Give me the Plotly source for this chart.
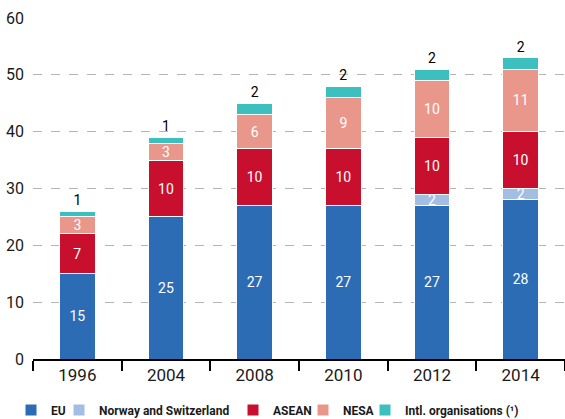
import plotly.graph_objects as go

years = ["1996", "2004", "2008", "2010", "2012", "2014"]
eu = [15, 25, 27, 27, 27, 28]
norway_switz = [0, 0, 0, 0, 2, 2]
asean = [7, 10, 10, 10, 10, 10]
nesa = [3, 3, 6, 9, 10, 11]
intl = [1, 1, 2, 2, 2, 2]

series = [
    ("EU", eu, "#2b6cb5", "white", "inside"),
    ("Norway and Switzerland", norway_switz, "#a3bde3", "white", "inside"),
    ("ASEAN", asean, "#c8102e", "white", "inside"),
    ("NESA", nesa, "#ea978b", "white", "inside"),
    ("Intl. organisations (¹)", intl, "#3cbfbf", "black", "outside"),
]
# legend symbol left edges (px)
legend_px = [23, 71, 245, 315, 377]

FONT = "Roboto, Open Sans, sans-serif"
W, H = 565, 419

fig = go.Figure()
layout_legends = {}
for i, (name, vals, color, tcolor, tpos) in enumerate(series):
    lg = "legend" if i == 0 else f"legend{i+1}"
    fig.add_trace(go.Bar(
        x=years, y=vals, name=name, legend=lg,
        marker=dict(color=color, line=dict(color="white", width=1)),
        text=[str(v) if v else "" for v in vals],
        textposition=tpos,
        insidetextanchor="middle",
        textangle=0,
        textfont=dict(color=tcolor, size=14, family=FONT),
        cliponaxis=False,
        constraintext="none",
        hoverinfo="skip",
    ))
    layout_legends[lg] = dict(
        orientation="h", xref="container", yref="container",
        x=(legend_px[i] - 12) / W, xanchor="left",
        y=(H - 410) / H, yanchor="middle",
        font=dict(size=12, family=FONT, weight="bold", color="#1a1a1a"),
        itemwidth=30, itemclick=False, itemdoubleclick=False,
        bgcolor="rgba(0,0,0,0)",
    )

fig.update_layout(
    barmode="stack",
    bargap=0.6,
    width=W, height=H,
    margin=dict(l=33, r=0, t=18, b=60, autoexpand=False),
    plot_bgcolor="white", paper_bgcolor="white",
    font=dict(family=FONT, color="#1a1a1a"),
    showlegend=True,
    uniformtext=dict(mode="show", minsize=14),
    **layout_legends,
)
fig.update_xaxes(
    showline=True, linecolor="black", linewidth=2,
    ticks="outside", tickson="boundaries", ticklen=10, tickwidth=2, tickcolor="black",
    tickfont=dict(size=17, color="#1a1a1a"),
    showgrid=False,
)
fig.update_yaxes(
    range=[0, 60], dtick=10,
    showgrid=True, gridcolor="#b5b5b5", griddash="dash", gridwidth=1,
    zeroline=False, showline=False,
    tickfont=dict(size=16, color="#1a1a1a"),
    ticks="", ticklabelstandoff=8,
)

fig.write_html("out.html", config={"displayModeBar": False},
               post_script="document.body.style.margin='0';")
